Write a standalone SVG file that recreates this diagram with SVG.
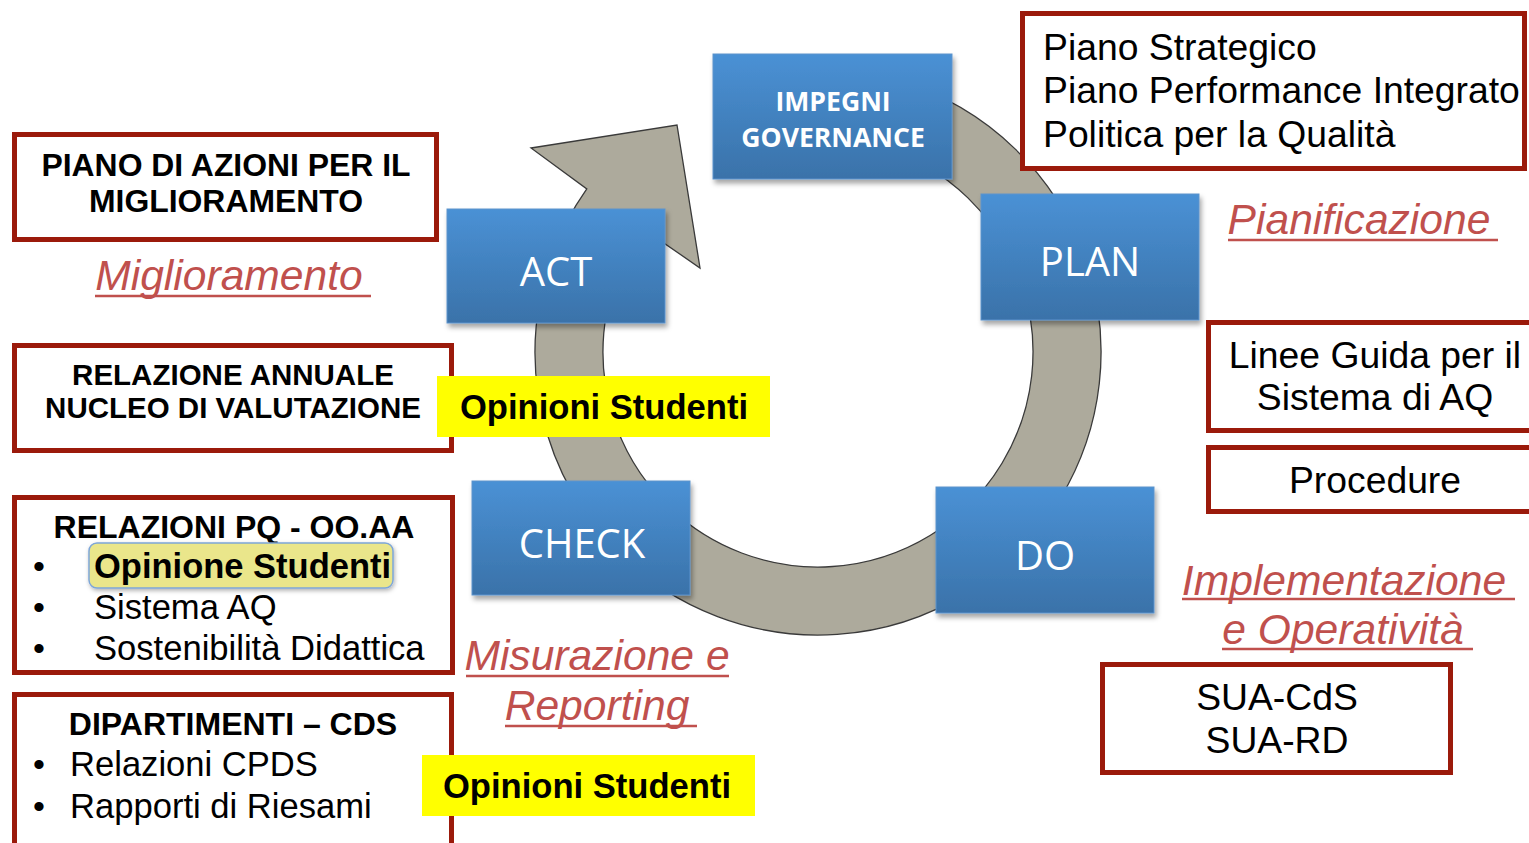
<svg xmlns="http://www.w3.org/2000/svg" width="1529" height="843" viewBox="0 0 1529 843">
<defs>
<linearGradient id="blueGrad" x1="0" y1="0" x2="0" y2="1">
<stop offset="0" stop-color="#4A91D5"/>
<stop offset="1" stop-color="#3A72A9"/>
</linearGradient>
<filter id="shadow" x="-10%" y="-10%" width="125%" height="130%">
<feDropShadow dx="2" dy="4" stdDeviation="2.5" flood-color="#000" flood-opacity="0.35"/>
</filter>
<filter id="shadowS" x="-10%" y="-20%" width="125%" height="150%">
<feDropShadow dx="1" dy="2" stdDeviation="2" flood-color="#000" flood-opacity="0.3"/>
</filter>
</defs>
<style>
.blue{fill:url(#blueGrad);stroke:#5C93CC;stroke-width:1;filter:url(#shadow)}
.btxt{font-family:"Open Sans","DejaVu Sans",sans-serif;fill:#fff;text-anchor:middle}
.bbold{font-family:"Open Sans","DejaVu Sans",sans-serif;fill:#fff;text-anchor:middle;font-weight:bold;font-size:26.6px}
.red{fill:#fff;stroke:#9B1A0B;stroke-width:5}
.hd{font-family:"Liberation Sans",Arial,sans-serif;font-weight:bold;fill:#000;text-anchor:middle}
.tx{font-family:"Liberation Sans",Arial,sans-serif;fill:#000}
.ph{font-family:"Liberation Sans",Arial,sans-serif;font-style:italic;fill:#C0504D;text-anchor:middle;font-size:42.6px}
.ul{stroke:#C0504D;stroke-width:2.5}
.yel{fill:#FFFF00}
.ys{font-family:"Liberation Sans",Arial,sans-serif;font-weight:bold;font-size:34.6px;fill:#000;text-anchor:middle}
</style>
<rect width="1529" height="843" fill="#fff"/>

<g id="connectors">
<path d="M778.6,71.8 A283,283 0 1 1 586.8,188.9 L531,148 L677,125 L700,268 L642.3,228.1 A215,215 0 1 0 788.1,139.1 Z" fill="#ADAA9C" stroke="#3A3A3A" stroke-width="1.3"/>
</g>

<g id="impegni">
<rect class="blue" x="713" y="54" width="239" height="125"/>
<text class="bbold" x="833" y="111">IMPEGNI</text>
<text class="bbold" x="833" y="147">GOVERNANCE</text>
</g>
<g id="act">
<rect class="blue" x="447" y="209" width="218" height="114"/>
<text class="btxt" x="556" y="286" font-size="40">ACT</text>
</g>
<g id="plan">
<rect class="blue" x="981" y="194" width="218" height="126"/>
<text class="btxt" x="1090" y="276" font-size="40">PLAN</text>
</g>
<g id="check">
<rect class="blue" x="472" y="481" width="218" height="114"/>
<text class="btxt" x="582" y="558" font-size="40">CHECK</text>
</g>
<g id="do">
<rect class="blue" x="936" y="487" width="218" height="126"/>
<text class="btxt" x="1045" y="570" font-size="40">DO</text>
</g>

<g id="piano-azioni">
<rect class="red" x="14.5" y="134.5" width="422" height="105"/>
<text class="hd" x="226" y="176" font-size="31.9">PIANO DI AZIONI PER IL</text>
<text class="hd" x="226" y="212" font-size="31.9">MIGLIORAMENTO</text>
</g>
<g id="miglioramento">
<text class="ph" x="229" y="290">Miglioramento</text>
<line class="ul" x1="95" y1="296" x2="371" y2="296"/>
</g>

<g id="relazione-annuale">
<rect class="red" x="14.5" y="345.5" width="437" height="105"/>
<text class="hd" x="233" y="385" font-size="29.5">RELAZIONE ANNUALE</text>
<text class="hd" x="233" y="418" font-size="29.5">NUCLEO DI VALUTAZIONE</text>
</g>
<g id="opinioni-1">
<rect class="yel" x="437" y="376" width="333" height="61"/>
<text class="ys" x="604" y="419">Opinioni Studenti</text>
</g>

<g id="relazioni-pq">
<rect class="red" x="14.5" y="497.5" width="438" height="175"/>
<text class="hd" x="234" y="538" font-size="32">RELAZIONI PQ - OO.AA</text>
<rect x="89" y="543" width="304" height="45" rx="8" fill="#EAE68B" stroke="#7EA6D8" stroke-width="1.5" filter="url(#shadowS)"/>
<text class="tx" x="33" y="578" font-size="34">•</text>
<text class="tx" x="33" y="619" font-size="34">•</text>
<text class="tx" x="33" y="660" font-size="34">•</text>
<text class="tx" x="94" y="578" font-size="34.5" font-weight="bold">Opinione Studenti</text>
<text class="tx" x="94" y="619" font-size="34.6">Sistema AQ</text>
<text class="tx" x="94" y="660" font-size="34.6">Sostenibilità Didattica</text>
</g>

<g id="dipartimenti">
<rect class="red" x="14.5" y="694.5" width="437" height="160"/>
<text class="hd" x="233" y="735" font-size="32">DIPARTIMENTI – CDS</text>
<text class="tx" x="33" y="776" font-size="34">•</text>
<text class="tx" x="33" y="818" font-size="34">•</text>
<text class="tx" x="70" y="776" font-size="34.6">Relazioni CPDS</text>
<text class="tx" x="70" y="818" font-size="34.6">Rapporti di Riesami</text>
</g>
<g id="opinioni-2">
<rect class="yel" x="422" y="755" width="333" height="61"/>
<text class="ys" x="587" y="798">Opinioni Studenti</text>
</g>

<g id="misurazione">
<text class="ph" x="597" y="670">Misurazione e</text>
<line class="ul" x1="466" y1="676" x2="729" y2="676"/>
<text class="ph" x="597" y="720">Reporting</text>
<line class="ul" x1="505" y1="726" x2="697" y2="726"/>
</g>

<g id="piano-strategico">
<rect class="red" x="1022.5" y="13.5" width="502" height="155"/>
<text class="tx" x="1043" y="60" font-size="37.3">Piano Strategico</text>
<text class="tx" x="1043" y="103" font-size="37.3">Piano Performance Integrato</text>
<text class="tx" x="1043" y="147" font-size="37.3">Politica per la Qualità</text>
</g>
<g id="pianificazione">
<text class="ph" x="1359" y="234">Pianificazione</text>
<line class="ul" x1="1228" y1="240" x2="1498" y2="240"/>
</g>

<g id="linee-guida">
<rect class="red" x="1208.5" y="322.5" width="330" height="108"/>
<text class="tx" x="1375" y="368" font-size="37.3" text-anchor="middle">Linee Guida per il</text>
<text class="tx" x="1375" y="410" font-size="37.3" text-anchor="middle">Sistema di AQ</text>
</g>
<g id="procedure">
<rect class="red" x="1208.5" y="447.5" width="330" height="64"/>
<text class="tx" x="1375" y="493" font-size="37.3" text-anchor="middle">Procedure</text>
</g>

<g id="implementazione">
<text class="ph" x="1344" y="595">Implementazione</text>
<line class="ul" x1="1182" y1="599" x2="1515" y2="599"/>
<text class="ph" x="1343" y="644">e Operatività</text>
<line class="ul" x1="1222" y1="649" x2="1473" y2="649"/>
</g>

<g id="sua">
<rect class="red" x="1102.5" y="664.5" width="348" height="108"/>
<text class="tx" x="1277" y="710" font-size="37.3" text-anchor="middle">SUA-CdS</text>
<text class="tx" x="1277" y="753" font-size="37.3" text-anchor="middle">SUA-RD</text>
</g>
</svg>
